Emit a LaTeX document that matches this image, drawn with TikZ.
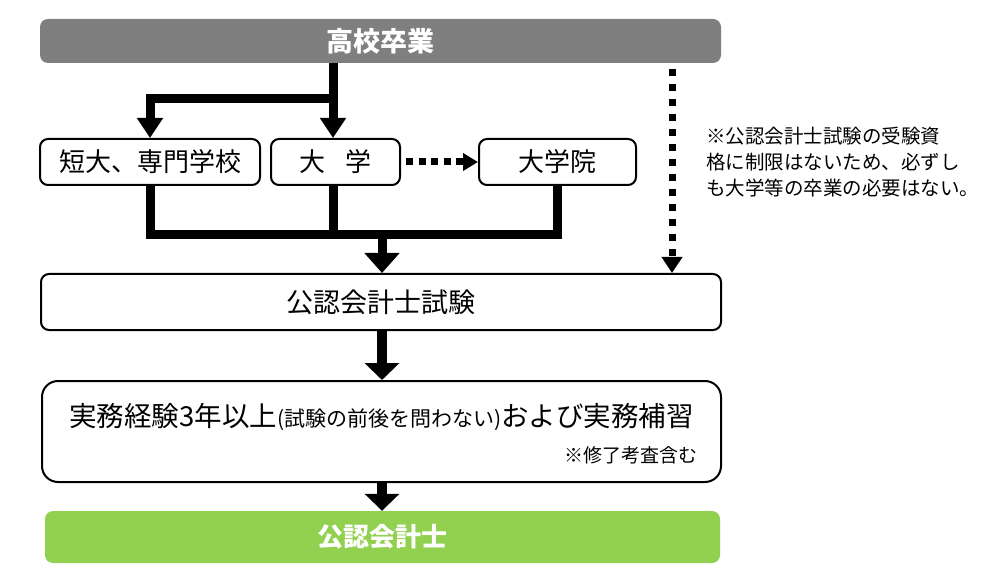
\documentclass[tikz,border=0pt]{standalone}
\usepackage{fontspec}
\newfontfamily\jp{Noto Sans CJK JP}
\usetikzlibrary{arrows.meta}
\definecolor{topgray}{HTML}{7F7F7F}
\definecolor{cpagreen}{HTML}{92D050}
\begin{document}
\begin{tikzpicture}[x=1pt,y=-1pt,
  box/.style={draw=black, line width=2pt, rounded corners=8pt, fill=white, inner sep=0pt, text=black},
  filledbox/.style={draw=none, rounded corners=8pt, inner sep=0pt, text=white, font=\jp\bfseries\fontsize{27}{32}\selectfont},
  rowtext/.style={font=\jp\fontsize{26}{31}\selectfont},
  conn/.style={line width=9pt, line join=miter, line cap=butt, draw=black},
  connlow/.style={line width=10pt, line cap=butt, draw=black},
  dotconn/.style={line width=7pt, line cap=butt, draw=black},
  smallhead/.style={-{Triangle[width=25pt,length=20pt]}},
  bighead/.style={-{Triangle[width=34pt,length=20pt]}},
  lowhead/.style={-{Triangle[width=34pt,length=17pt]}}
]
\useasboundingbox (0,0) rectangle (1001,585);

% boxes
\node[filledbox, fill=topgray, minimum width=681pt, minimum height=44pt] (top) at (380.5,41) {高校卒業};
\node[box, rowtext, minimum width=220pt, minimum height=46pt] (tandai) at (150,162) {短大、専門学校};
\node[box, rowtext, minimum width=129pt, minimum height=46pt] (daigaku) at (335.5,162) {大\hspace{0.75em}学};
\node[box, rowtext, minimum width=157pt, minimum height=46pt] (daigakuin) at (557.5,162) {大学院};
\node[box, font=\jp\fontsize{27}{32}\selectfont, minimum width=680pt, minimum height=56pt] (shiken) at (381,302) {公認会計士試験};
\node[box, rounded corners=16pt, minimum width=679pt, minimum height=101pt] (jitsumu) at (381.5,431.5) {};
\node[font=\jp\fontsize{27.5}{32}\selectfont, inner sep=0pt] (jmain) at (381.5,417) {実務経験3年以上{\fontsize{21}{25}\selectfont(試験の前後を問わない)}および実務補習};
\node[font=\jp\fontsize{19}{24}\selectfont, anchor=east, inner sep=0pt] (jnote) at (698,455) {※修了考査含む};
\node[filledbox, fill=cpagreen, font=\jp\bfseries\fontsize{26}{31}\selectfont, minimum width=675pt, minimum height=52pt] (cpa) at (382.5,537) {公認会計士};

% side note
\node[font=\jp\fontsize{19.5}{26}\selectfont, align=left, anchor=north west, inner sep=0pt] (note) at (706,127)
  {※公認会計士試験の受験資\\格に制限はないため、必ずし\\も大学等の卒業の必要はない。};

% junction coordinates
\coordinate (j1) at (333,99);
\coordinate (j2) at (382,234.5);
\coordinate (d1) at (672,69);

% connectors from top
\draw[conn, smallhead] (j1 |- top.south) -- (j1 |- daigaku.north);
\draw[conn, smallhead] (j1) -| (tandai.north);

% bottom bar
\draw[conn] (tandai.south) |- (j2 -| daigakuin.south) -- (daigakuin.south);
\draw[conn] (j1 |- daigaku.south) -- (j1 |- j2);
\draw[conn, bighead] (j2) -- (j2 |- shiken.north);

% dotted connectors
\draw[dotconn, dash pattern=on 7pt off 5.5pt, -{Triangle[width=17pt,length=15pt]}] ([xshift=5pt]daigaku.east) -- (daigakuin.west);
\draw[dotconn, dash pattern=on 7pt off 8pt, -{Triangle[width=20pt,length=16pt]}] (d1) -- (d1 |- shiken.north);

% lower arrows
\draw[connlow, lowhead] (shiken.south -| j2) -- (jitsumu.north -| j2);
\draw[connlow, lowhead] (jitsumu.south -| j2) -- (cpa.north -| j2);
\end{tikzpicture}
\end{document}
